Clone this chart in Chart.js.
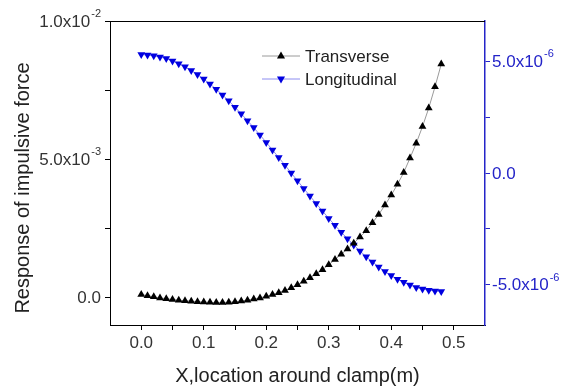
<!DOCTYPE html>
<html>
<head>
<meta charset="utf-8">
<title>Response of impulsive force</title>
<script src="https://cdn.jsdelivr.net/npm/chart.js@4/dist/chart.umd.min.js"></script>
<style>
  body { margin: 0; background: #fff; }
  #wrap { width: 563px; height: 386px; }
</style>
</head>
<body>
<div id="wrap"><canvas id="myChart" width="563" height="386"></canvas></div>
<script>
// x positions along the clamp (m)
const xValues = [0.00, 0.01, 0.02, 0.03, 0.04, 0.05, 0.06, 0.07, 0.08, 0.09,
                 0.10, 0.11, 0.12, 0.13, 0.14, 0.15, 0.16, 0.17, 0.18, 0.19,
                 0.20, 0.21, 0.22, 0.23, 0.24, 0.25, 0.26, 0.27, 0.28, 0.29,
                 0.30, 0.31, 0.32, 0.33, 0.34, 0.35, 0.36, 0.37, 0.38, 0.39,
                 0.40, 0.41, 0.42, 0.43, 0.44, 0.45, 0.46, 0.47, 0.48];

// left axis
const transverse = [0.00010, 0.00006, 0.00002, -0.00002, -0.00005, -0.00008, -0.00010, -0.00012, -0.00014, -0.00016,
                    -0.00017, -0.00018, -0.00019, -0.00019, -0.00018, -0.00016, -0.00013, -0.00010, -0.00006, -0.00002,
                    0.00004, 0.00010, 0.00017, 0.00025, 0.00035, 0.00046, 0.00058, 0.00071, 0.00085, 0.00100,
                    0.00118, 0.00137, 0.00156, 0.00175, 0.00196, 0.00218, 0.00241, 0.00270, 0.00300, 0.00334,
                    0.00370, 0.00409, 0.00452, 0.00504, 0.00558, 0.00618, 0.00685, 0.00762, 0.00844];

// right axis
const longitudinal = [5.30e-6, 5.28e-6, 5.24e-6, 5.19e-6, 5.12e-6, 5.01e-6, 4.89e-6, 4.75e-6, 4.59e-6, 4.41e-6,
                      4.20e-6, 3.98e-6, 3.75e-6, 3.49e-6, 3.23e-6, 2.94e-6, 2.65e-6, 2.34e-6, 2.03e-6, 1.70e-6,
                      1.37e-6, 1.03e-6, 0.69e-6, 0.35e-6, 0.00e-6, -0.35e-6, -0.69e-6, -1.03e-6, -1.37e-6, -1.70e-6,
                      -2.03e-6, -2.34e-6, -2.65e-6, -2.94e-6, -3.22e-6, -3.49e-6, -3.75e-6, -3.98e-6, -4.20e-6, -4.41e-6,
                      -4.59e-6, -4.75e-6, -4.89e-6, -5.01e-6, -5.12e-6, -5.19e-6, -5.24e-6, -5.28e-6, -5.30e-6];

// tick positions and labels ('' = minor tick)
const xTicks = [0, 0.05, 0.1, 0.15, 0.2, 0.25, 0.3, 0.35, 0.4, 0.45, 0.5];
const xTickLabels = ['0.0', '', '0.1', '', '0.2', '', '0.3', '', '0.4', '', '0.5'];
const leftTicks = [0, 0.0025, 0.005, 0.0075, 0.01];
const leftTickLabels = ['0.0', '', '5.0x10', '', '1.0x10'];
const leftTickExps = ['', '', '-3', '', '-2'];
const rightTicks = [-5e-6, -2.5e-6, 0, 2.5e-6, 5e-6];
const rightTickLabels = ['-5.0x10', '', '0.0', '', '5.0x10'];
const rightTickExps = ['-6', '', '', '', '-6'];

const FONT = 'Arial, "Liberation Sans", Helvetica, sans-serif';
const BLUE_AXIS = '#2424c8';

function pairs(ys) {
    return xValues.map((x, i) => ({x: x, y: ys[i]}));
}

function labelFor(ticks, labels) {
    return function(value) {
        const i = ticks.findIndex(t => Math.abs(t - value) < 1e-12);
        return i >= 0 ? labels[i] : '';
    };
}

function drawTriangle(ctx, x, y, r, down) {
    ctx.beginPath();
    const s = down ? -1 : 1;
    ctx.moveTo(x, y - s * r);
    ctx.lineTo(x + r * 0.9, y + s * r * 0.55);
    ctx.lineTo(x - r * 0.9, y + s * r * 0.55);
    ctx.closePath();
    ctx.fill();
}

// y tick labels with real superscript exponents
function drawExpLabels(ctx, scale, ticks, labels, exps, x, align, color) {
    ctx.fillStyle = color;
    ctx.textBaseline = 'middle';
    ctx.textAlign = 'left';
    ticks.forEach((v, i) => {
        if (!labels[i]) return;
        const y = scale.getPixelForValue(v);
        ctx.font = '17px ' + FONT;
        const w1 = ctx.measureText(labels[i]).width;
        ctx.font = '11px ' + FONT;
        const w2 = exps[i] ? ctx.measureText(exps[i]).width + 1 : 0;
        const x0 = align === 'right' ? x - w1 - w2 : x;
        ctx.font = '17px ' + FONT;
        ctx.fillText(labels[i], x0, y + 1);
        if (exps[i]) {
            ctx.font = '11px ' + FONT;
            ctx.fillText(exps[i], x0 + w1 + 1, y - 7);
        }
    });
}

const decorPlugin = {
    id: 'decor',
    afterDraw(chart) {
        const {ctx, chartArea, scales} = chart;
        ctx.save();
        // top frame line
        ctx.strokeStyle = '#000';
        ctx.lineWidth = 1;
        ctx.beginPath();
        ctx.moveTo(chartArea.left, chartArea.top + 0.5);
        ctx.lineTo(chartArea.right, chartArea.top + 0.5);
        ctx.stroke();

        drawExpLabels(ctx, scales.y, leftTicks, leftTickLabels, leftTickExps, 101, 'right', '#333');
        drawExpLabels(ctx, scales.y2, rightTicks, rightTickLabels, rightTickExps, 492, 'left', BLUE_AXIS);

        // left axis title
        ctx.save();
        ctx.translate(23, 188);
        ctx.rotate(-Math.PI / 2);
        ctx.fillStyle = '#222';
        ctx.font = '20px ' + FONT;
        ctx.textAlign = 'center';
        ctx.textBaseline = 'middle';
        ctx.fillText('Response of impulsive force', 0, 0);
        ctx.restore();

        // legend inside plot
        const rows = [56, 79];
        chart.data.datasets.forEach((ds, i) => {
            const y = rows[i];
            ctx.strokeStyle = ds.borderColor;
            ctx.lineWidth = 1;
            ctx.beginPath();
            ctx.moveTo(262, y);
            ctx.lineTo(300, y);
            ctx.stroke();
            ctx.fillStyle = ds.pointBackgroundColor;
            drawTriangle(ctx, 281, y, 4.5, ds.pointRotation === 180);
            ctx.fillStyle = '#222';
            ctx.font = '17px ' + FONT;
            ctx.textAlign = 'left';
            ctx.textBaseline = 'middle';
            ctx.fillText(ds.label, 305, y + 1);
        });
        ctx.restore();
    }
};

const ctx = document.getElementById('myChart').getContext('2d');
const myChart = new Chart(ctx, {
    type: 'line',
    data: {
        datasets: [{
            label: 'Transverse',
            data: pairs(transverse),
            yAxisID: 'y',
            borderColor: '#9a9a9a',
            borderWidth: 1,
            pointStyle: 'triangle',
            pointRadius: 4.5,
            pointBackgroundColor: '#000',
            pointBorderColor: '#000',
            pointBorderWidth: 0,
            pointRotation: 0,
            fill: false
        }, {
            label: 'Longitudinal',
            data: pairs(longitudinal),
            yAxisID: 'y2',
            borderColor: '#8c8cf0',
            borderWidth: 1,
            pointStyle: 'triangle',
            pointRadius: 4.5,
            pointBackgroundColor: '#0000e0',
            pointBorderColor: '#0000e0',
            pointBorderWidth: 0,
            pointRotation: 180,
            fill: false
        }]
    },
    options: {
        responsive: false,
        animation: false,
        devicePixelRatio: 1,
        layout: { padding: { top: 21, left: 0, right: 0, bottom: 0 } },
        plugins: {
            legend: { display: false },
            tooltip: { enabled: false }
        },
        scales: {
            x: {
                type: 'linear',
                min: -0.05,
                max: 0.55,
                afterBuildTicks: s => { s.ticks = xTicks.map(v => ({value: v})); },
                afterFit: s => { s.height = 61; },
                grid: { drawOnChartArea: false, drawTicks: true, tickLength: 5, color: '#000' },
                border: { display: true, color: '#000', width: 1 },
                ticks: {
                    autoSkip: false,
                    maxRotation: 0,
                    padding: 3,
                    color: '#333',
                    font: { family: FONT, size: 17 },
                    callback: labelFor(xTicks, xTickLabels)
                },
                title: {
                    display: true,
                    text: 'X,location around clamp(m)',
                    color: '#222',
                    font: { family: FONT, size: 20, lineHeight: 1 },
                    padding: { top: 0, bottom: 0 }
                }
            },
            y: {
                type: 'linear',
                position: 'left',
                min: -0.001,
                max: 0.01,
                afterBuildTicks: s => { s.ticks = leftTicks.map(v => ({value: v})); },
                afterFit: s => { s.width = 110; },
                grid: { drawOnChartArea: false, drawTicks: true, tickLength: 5, color: '#000' },
                border: { display: true, color: '#000', width: 1 },
                ticks: { display: false }
            },
            y2: {
                type: 'linear',
                position: 'right',
                min: -6.8e-6,
                max: 6.8e-6,
                afterBuildTicks: s => { s.ticks = rightTicks.map(v => ({value: v})); },
                afterFit: s => { s.width = 78; },
                grid: { drawOnChartArea: false, drawTicks: true, tickLength: 5, color: BLUE_AXIS },
                border: { display: true, color: BLUE_AXIS, width: 1.5 },
                ticks: { display: false }
            }
        }
    },
    plugins: [decorPlugin]
});
</script>
</body>
</html>
